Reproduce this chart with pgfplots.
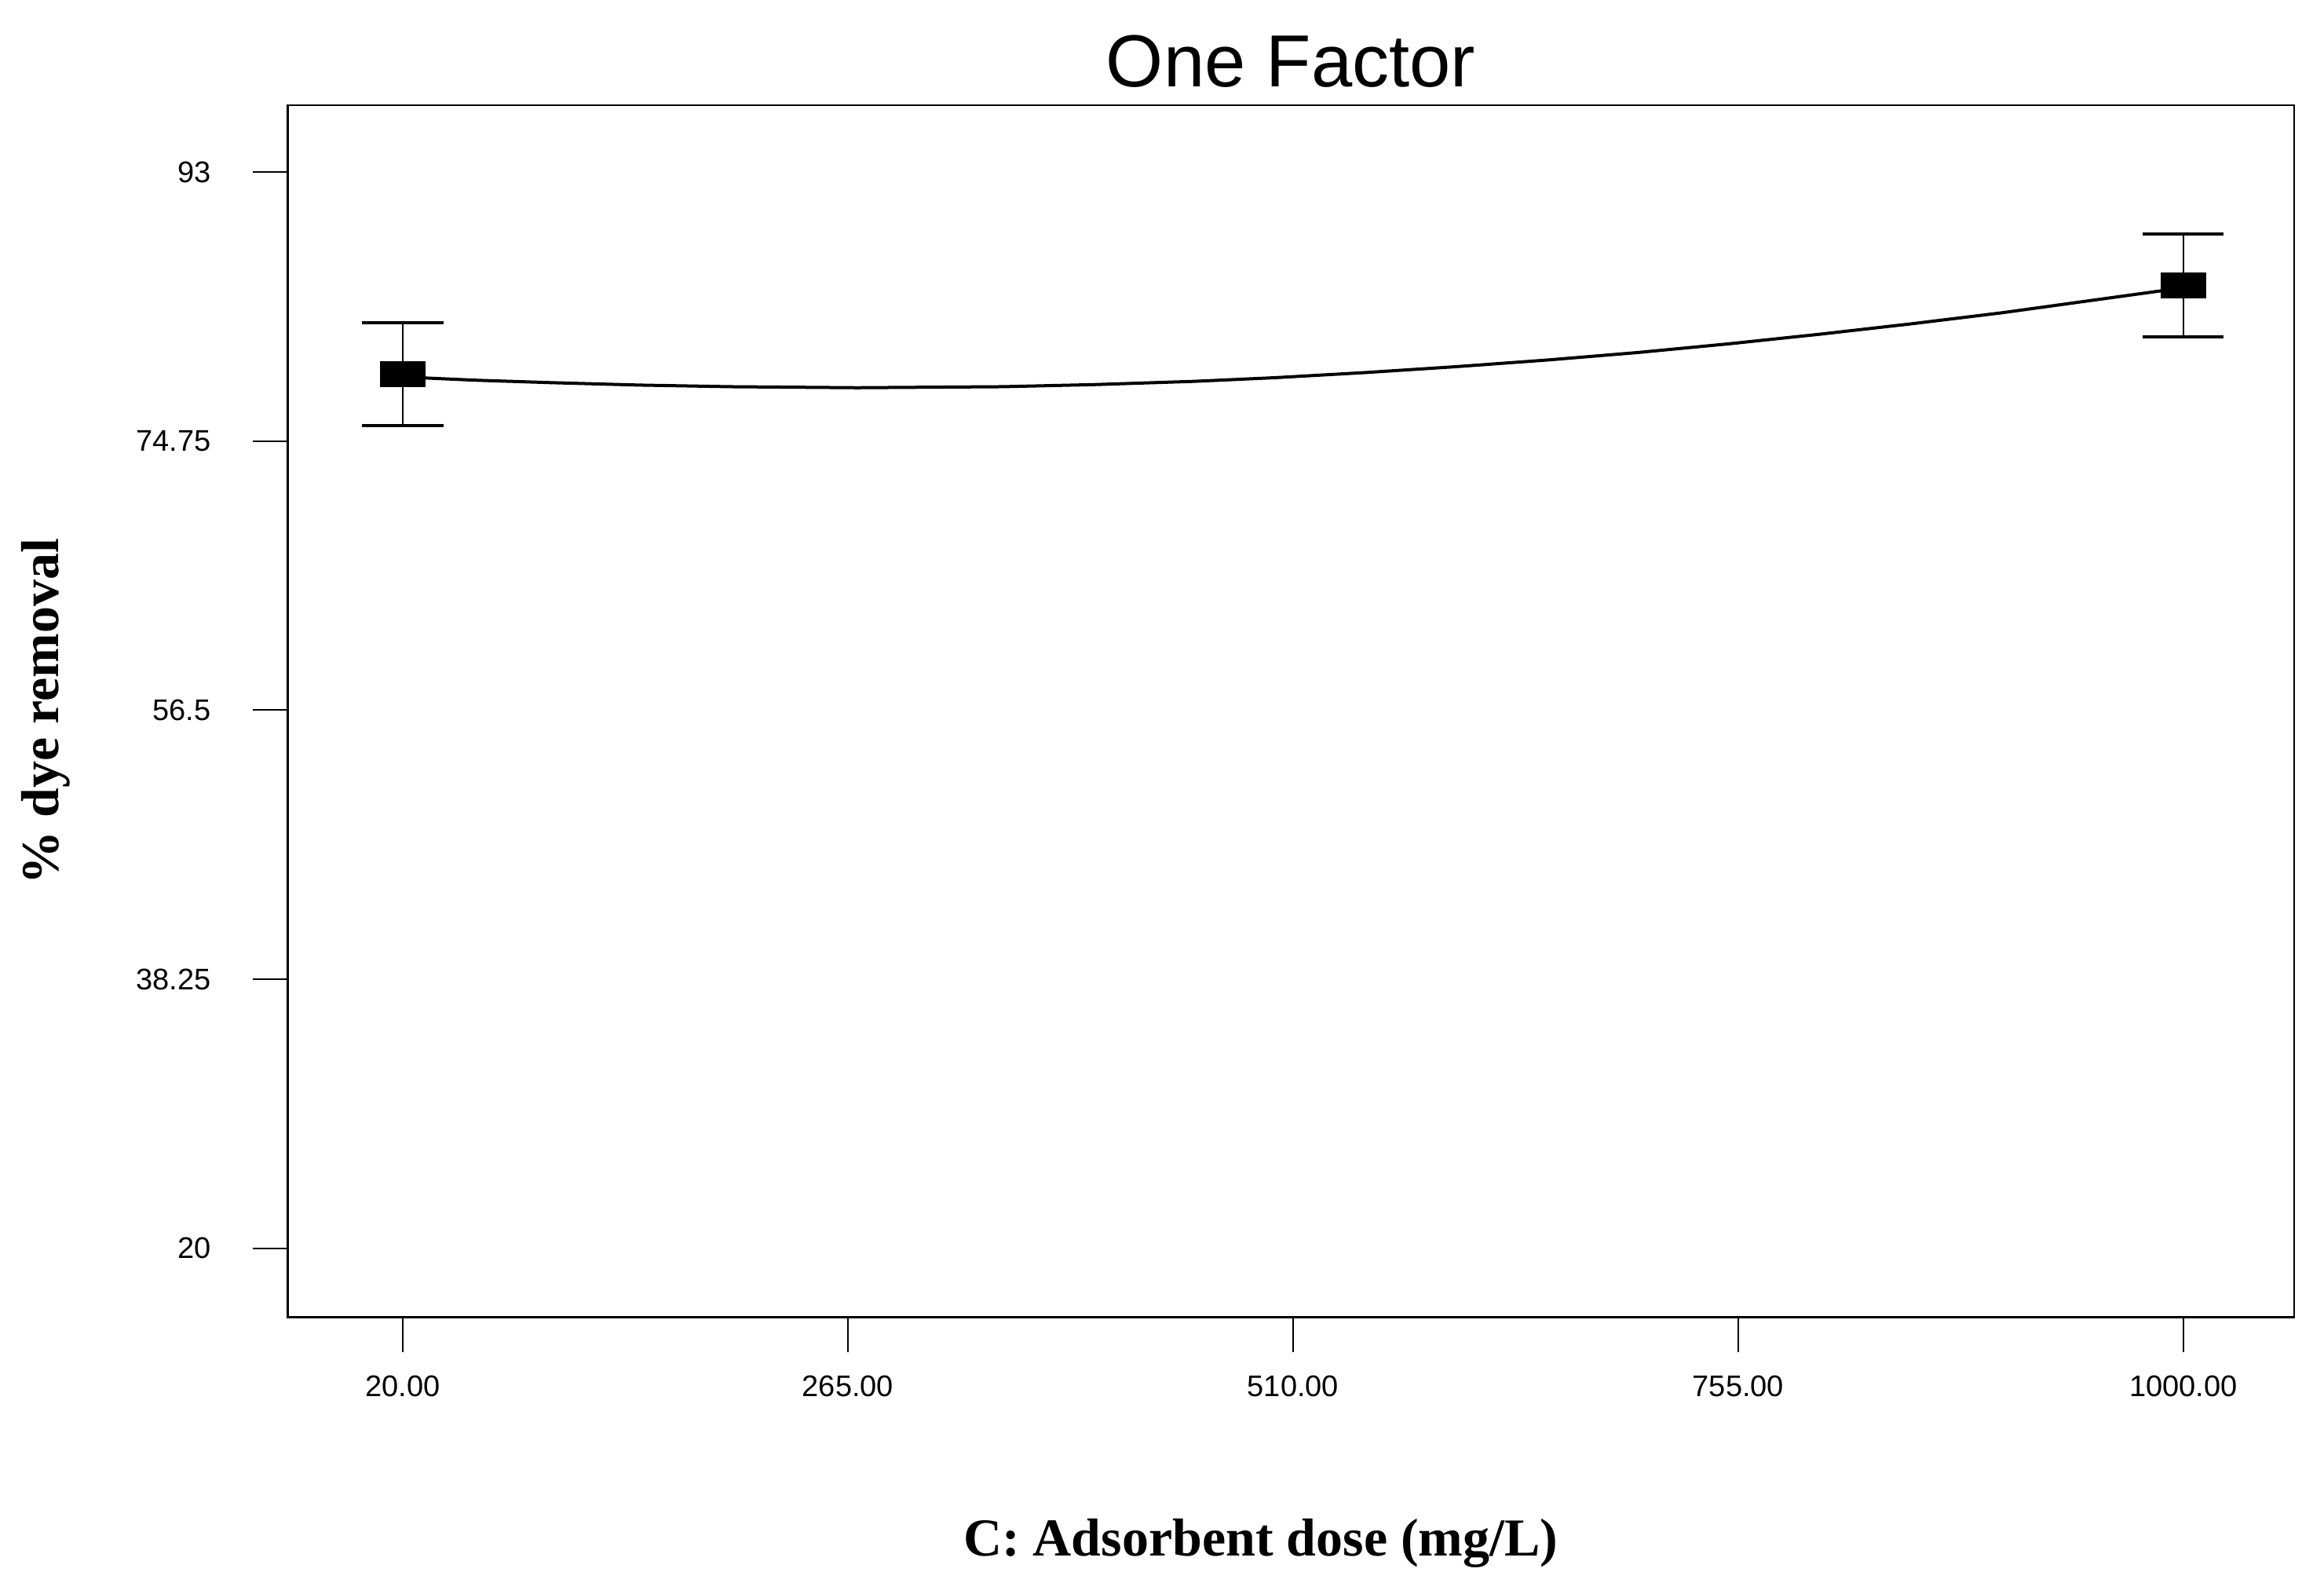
\documentclass[border=0pt]{standalone}
\usepackage{fontspec}
\setmainfont{Liberation Serif}
\setsansfont{Liberation Sans}
\usepackage{pgfplots}
\pgfplotsset{compat=1.18}
\begin{document}
\begin{tikzpicture}
\path (-91.5pt,-88pt) rectangle (648.5pt,419.5pt);
\begin{axis}[
  at={(0,0)}, anchor=south west,
  width=639pt, height=386pt, scale only axis,
  xmin=-43.5, xmax=1061, ymin=15.31, ymax=97.53,
  axis line style={line width=0.5pt, black},
  tick align=outside, major tick length=11pt,
  tick pos=left,
  xtick={20,265,510,755,1000},
  xticklabels={20.00,265.00,510.00,755.00,1000.00},
  ytick={20,38.25,56.5,74.75,93},
  yticklabels={20,38.25,56.5,74.75,93},
  tick style={line width=0.5pt, black},
  ticklabel style={font=\sffamily\fontsize{9.5}{11}\selectfont},
  xticklabel style={yshift=-4pt},
  yticklabel style={xshift=-9.8pt},
  title={One Factor},
  title style={font=\sffamily\fontsize{23.5}{28}\selectfont, at={(axis description cs:0.5,1)}, anchor=center, yshift=8pt},
  xlabel={C: Adsorbent dose (mg/L)},
  xlabel style={font=\bfseries\fontsize{17}{20}\selectfont, at={(axis description cs:0.4851,-0.1863)}, anchor=center},
  ylabel={\% dye removal},
  ylabel style={font=\bfseries\fontsize{17}{20}\selectfont, at={(axis description cs:-0.1203,0.5)}, anchor=center},
]
\draw[line width=1pt] (rel axis cs:0,1) -- (rel axis cs:0,0) -- (rel axis cs:1,0);
\pgfplotsinvokeforeach{20,38.25,56.5,74.75,93}{\draw[line width=0.5pt] (axis cs:-43.5,#1) -- ++(-18.5pt,0pt);}
\addplot[black, line width=1pt, mark=none] coordinates {
(20,79.10) (60,78.88) (100,78.72) (150,78.55) (200,78.44) (270,78.37) (350,78.44) (400,78.58) (455,78.80) (500,79.05) (550,79.40) (600,79.80) (650,80.25) (700,80.76) (750,81.35) (800,82.00) (850,82.70) (900,83.45) (950,84.30) (1000,85.15)
};
\addplot[black, only marks, mark=square*, mark size=3.9pt, mark options={xscale=1.8, fill=black},
  error bars/.cd, y dir=both, y explicit,
  error bar style={line width=0.5pt, black},
  error mark options={rotate=90, mark size=12.9pt, line width=1pt, black}]
coordinates {(20,79.3) +- (0,3.5) (1000,85.3) +- (0,3.5)};
\end{axis}
\end{tikzpicture}
\end{document}
